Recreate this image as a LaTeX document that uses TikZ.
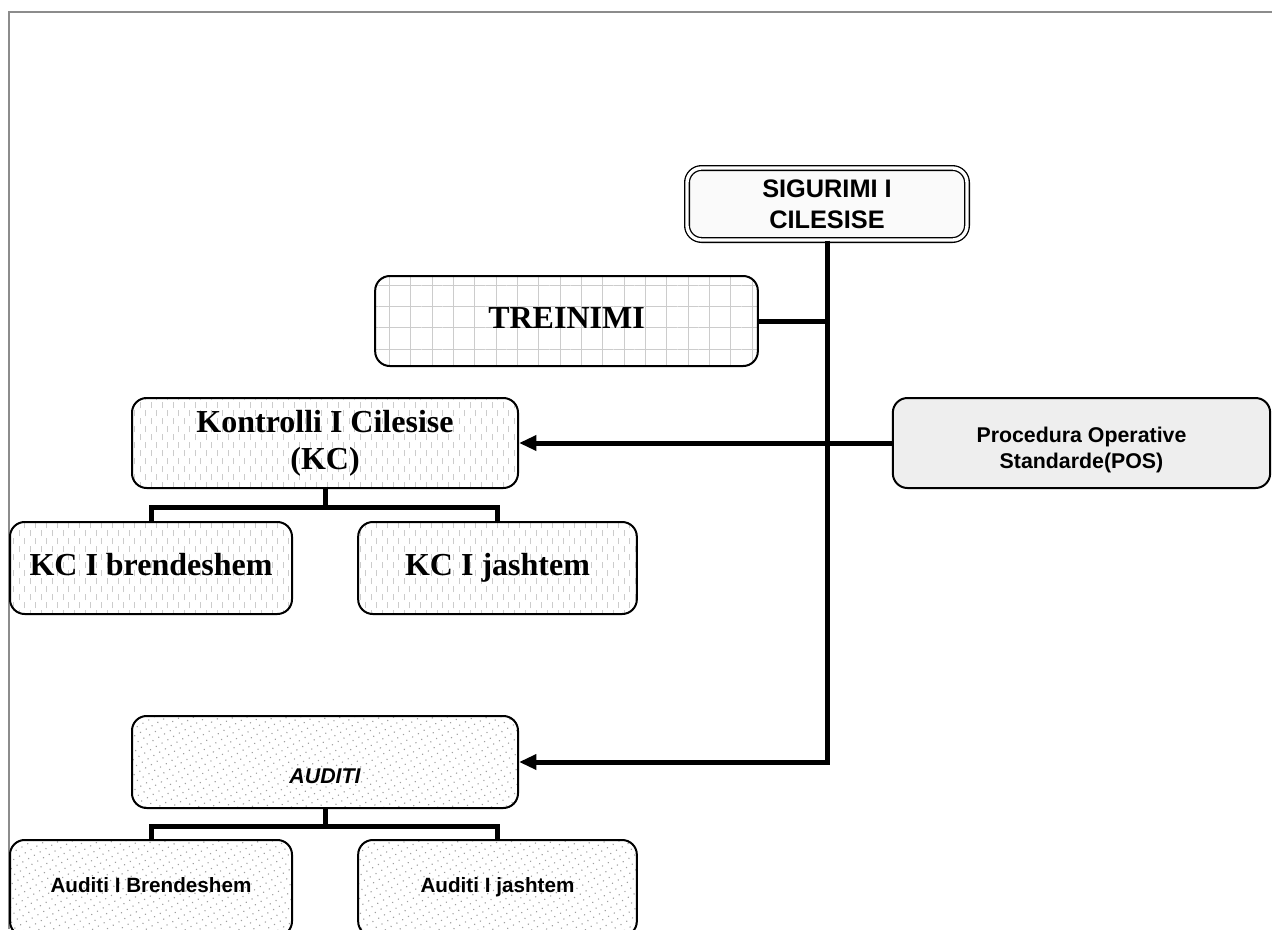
\documentclass[tikz,border=0pt]{standalone}
\usepackage{fontspec}
\setmainfont{Liberation Serif}
\setsansfont{Liberation Sans}
\usetikzlibrary{positioning, arrows.meta, patterns, patterns.meta}
\pgfdeclarepatternformonly{vdashes}{\pgfqpoint{-1pt}{-1pt}}{\pgfqpoint{9pt}{13pt}}{\pgfqpoint{8.25pt}{12pt}}{%
	\pgfsetlinewidth{0.8pt}
	\pgfpathmoveto{\pgfqpoint{2pt}{0.5pt}}\pgfpathlineto{\pgfqpoint{2pt}{5pt}}
	\pgfpathmoveto{\pgfqpoint{6.1pt}{6.5pt}}\pgfpathlineto{\pgfqpoint{6.1pt}{11pt}}
	\pgfusepath{stroke}}
\tikzstyle{caja} = [draw=black, line width=1.5pt, rounded corners=11pt, inner sep=0pt, align=center]
\tikzstyle{renglon} = [execute at begin node=\strut]
\tikzstyle{titulo} = [caja, double, double distance=2.5pt, line width=1pt, fill=gray!4, font=\sffamily\bfseries\fontsize{19}{23}\selectfont]
\tikzstyle{rejilla} = [caja, pattern={Hatch[distance=16pt, line width=0.5pt, xshift=4pt, yshift=3pt]}, pattern color=gray!40, font=\bfseries\fontsize{24}{28}\selectfont]
\tikzstyle{rayas} = [caja, pattern=vdashes, pattern color=gray!40, font=\bfseries\fontsize{24}{28}\selectfont]
\tikzstyle{puntos} = [caja, pattern={Dots[distance=5pt, radius=0.6pt, angle=30]}, pattern color=gray!75, font=\sffamily\bfseries\fontsize{15.5}{18}\selectfont]
\tikzstyle{textura} = [caja, fill=gray!13, font=\sffamily\bfseries\fontsize{16}{19.5}\selectfont]
\tikzstyle{linea} = [line width=3.75pt]
\tikzstyle{flecha} = [linea, -{Triangle[length=13pt, width=11pt]}]

\begin{document}
\begin{tikzpicture}[x=0.75pt, y=-0.75pt]
	\useasboundingbox (0,0) rectangle (1272,929);
	\draw[gray!90, line width=2.2pt] (9,929) -- (9,12) -- (1272,12);
	% cajas
	\node[titulo, minimum width=210pt, minimum height=54pt] (sig) at (827,204) {SIGURIMI I\\CILESISE};
	\node[rejilla, renglon, minimum width=287pt, minimum height=67.5pt] (tre) at (566.5,321) {TREINIMI};
	\node[rayas, minimum width=289.5pt, minimum height=67.5pt] (kc) at (325,443) {Kontrolli I Cilesise\\(KC)};
	\node[textura, minimum width=283pt, minimum height=67.5pt] (pos) at (1081.5,443) {};
	\node[font=\sffamily\bfseries\fontsize{16}{19.5}\selectfont, align=center] (postxt) at (1081.5,450) {Procedura Operative\\Standarde(POS)};
	\node[rayas, renglon, minimum width=211.5pt, minimum height=69pt] (kcb) at (151,568) {KC I brendeshem};
	\node[rayas, renglon, minimum width=209pt, minimum height=69pt] (kcj) at (497.5,568) {KC I jashtem};
	\node[puntos, minimum width=289.5pt, minimum height=69pt] (aud) at (325,762) {};
	\node[font=\sffamily\bfseries\itshape\fontsize{16}{19}\selectfont] (audtxt) at (325,776) {AUDITI};
	\node[puntos, renglon, minimum width=211.5pt, minimum height=72pt] (audb) at (151,888) {Auditi I Brendeshem};
	\node[puntos, renglon, minimum width=209pt, minimum height=72pt] (audj) at (497.5,888) {Auditi I jashtem};
	% conectores
	\draw[flecha] (sig.south) -- (sig.south |- aud.east) -- (aud.east);
	\draw[linea] (tre.east) -- (tre.east -| sig.south);
	\draw[flecha] (pos.west) -- (kc.east);
	\draw[linea] (kc.south) -- ++(0,18) -| (kcb.north);
	\draw[linea] (kc.south) -- ++(0,18) -| (kcj.north);
	\draw[linea] (aud.south) -- ++(0,17) -| (audb.north);
	\draw[linea] (aud.south) -- ++(0,17) -| (audj.north);
\end{tikzpicture}
\end{document}
